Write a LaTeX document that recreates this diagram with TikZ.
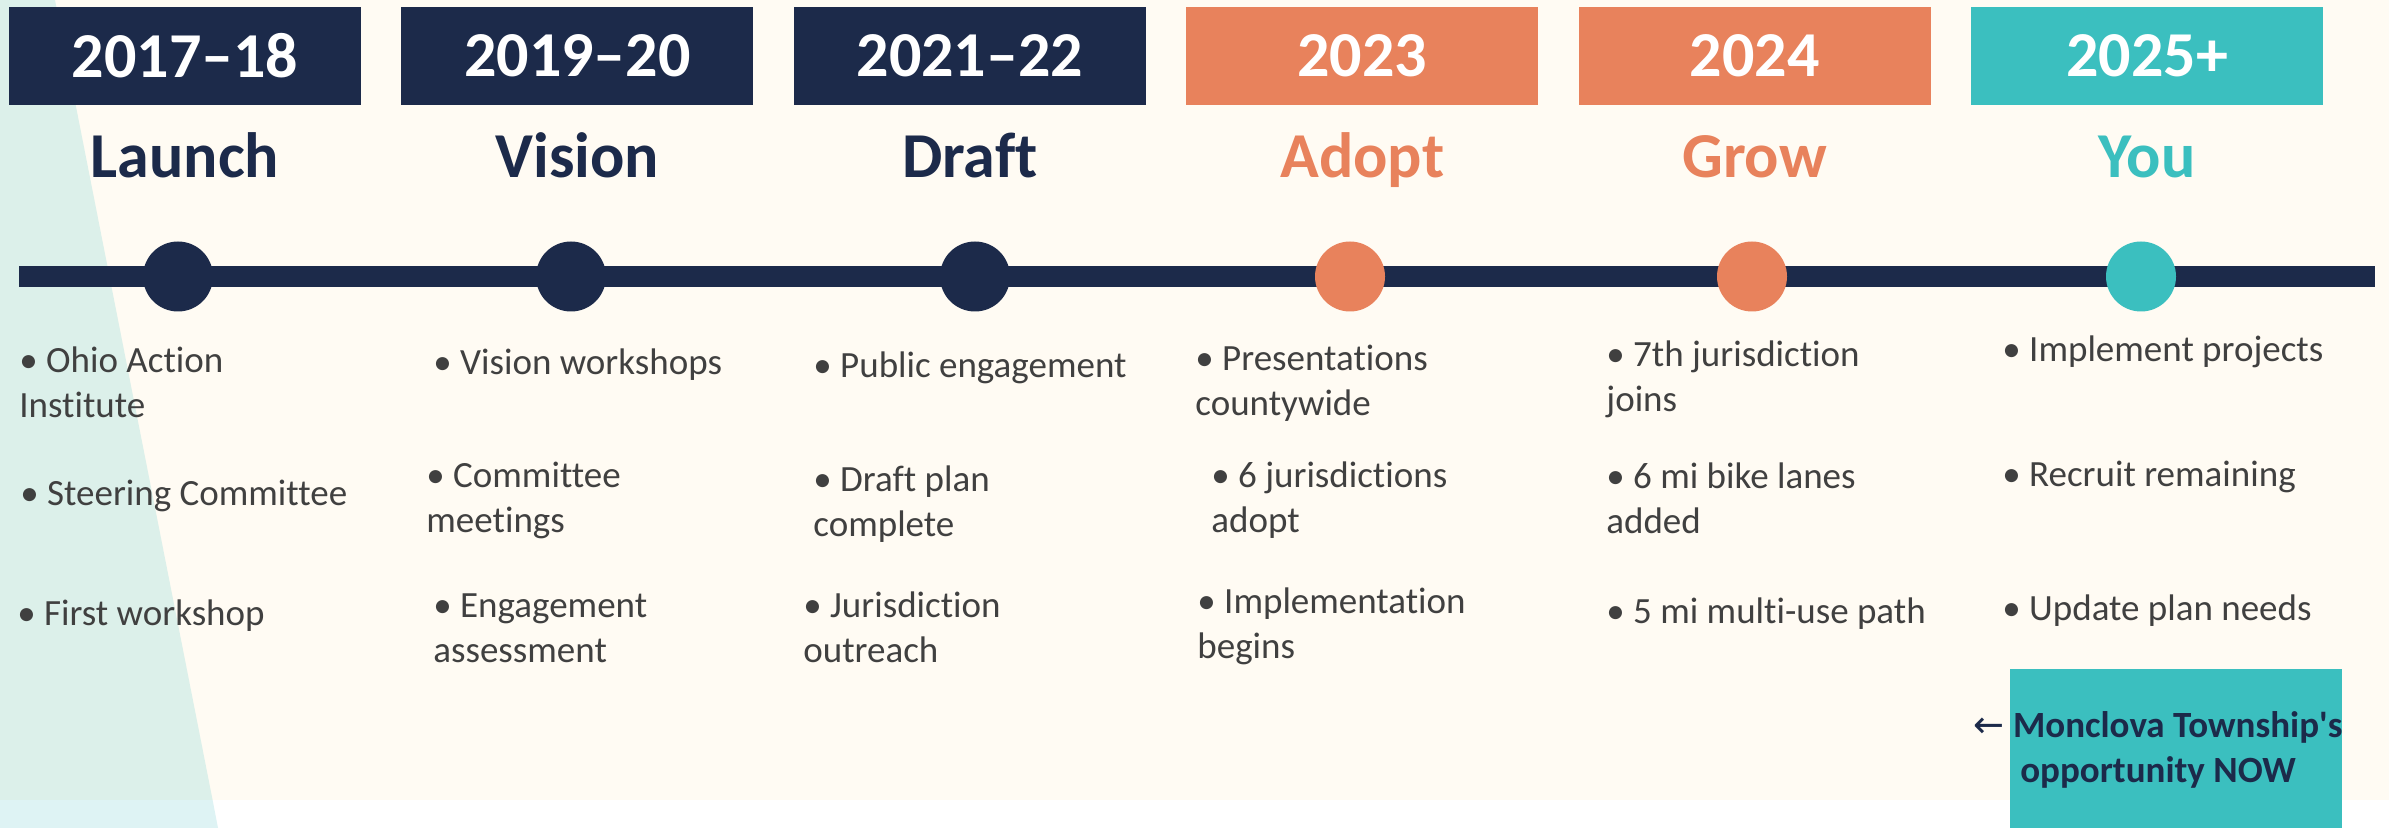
\documentclass[tikz,border=0pt]{standalone}
\usepackage{fontspec}
\setmainfont{Carlito}[Ligatures=NoCommon]
\newfontfamily\arrowfont{DejaVu Sans}
\usetikzlibrary{positioning}

\definecolor{navy}{HTML}{1C2A4A}
\definecolor{coral}{HTML}{E8825C}
\definecolor{aqua}{HTML}{3BBFBF}
\definecolor{cream}{HTML}{FFFBF3}
\definecolor{mint}{RGB}{220,240,234}
\definecolor{ice}{RGB}{222,243,244}
\definecolor{ink}{HTML}{404040}

\tikzset{
  yearbox/.style={fill=#1, text=white, font=\fontsize{32}{38}\selectfont\bfseries,
    minimum width=176pt, minimum height=49pt, inner sep=0pt},
  phase/.style={text=#1, font=\fontsize{32}{38}\selectfont\bfseries, anchor=base, inner sep=0pt},
  milestone/.style={circle, fill=#1, minimum size=35pt, inner sep=0pt},
  bullettext/.style={anchor=base west, align=left, text=ink,
    font=\fontsize{18.5}{22.5}\selectfont, inner sep=0pt},
  bar/.style={draw=navy, line width=10.5pt},
}

\begin{document}
\begin{tikzpicture}[x=0.5pt,y=-0.5pt]
   \useasboundingbox (0,0) rectangle (2389,828);
   %BACKGROUND
   \fill[white] (0,0) rectangle (2389,828);
   \fill[cream] (0,0) rectangle (2389,800);
   \fill[mint] (0,0) -- (55,0) -- (212.6,800) -- (0,800) -- cycle;
   \fill[ice] (0,800) -- (212.6,800) -- (218,828) -- (0,828) -- cycle;

   %YEARS
   \node[yearbox=navy] (y1) at (185,56) {2017–18};
   \node[yearbox=navy] (y2) at (577.4,56) {2019–20};
   \node[yearbox=navy] (y3) at (969.8,56) {2021–22};
   \node[yearbox=coral] (y4) at (1362.2,56) {2023};
   \node[yearbox=coral] (y5) at (1754.6,56) {2024};
   \node[yearbox=aqua] (y6) at (2147,56) {2025+};

   %PHASES
   \node[phase=navy] (p1) at (185,178) {Launch};
   \node[phase=navy] (p2) at (577.4,178) {Vision};
   \node[phase=navy] (p3) at (969.8,178) {Draft};
   \node[phase=coral] (p4) at (1362.2,178) {Adopt};
   \node[phase=coral] (p5) at (1754.6,178) {Grow};
   \node[phase=aqua] (p6) at (2147,178) {You};

   %TIMELINE
   \coordinate (lstart) at (19,276.5);
   \coordinate (lend) at (2375,276.5);
   \draw[bar] (lstart) -- (lend);
   \node[milestone=navy] (m1) at (178,276.5) {};
   \node[milestone=navy] (m2) at (571,276.5) {};
   \node[milestone=navy] (m3) at (975,276.5) {};
   \node[milestone=coral] (m4) at (1350,276.5) {};
   \node[milestone=coral] (m5) at (1752,276.5) {};
   \node[milestone=aqua] (m6) at (2141,276.5) {};

   %2017-18 (base = last line)
   \node[bullettext] (a1) at (19,418) {• Ohio Action\\Institute};
   \node[bullettext] (a2) at (20,506) {• Steering Committee};
   \node[bullettext] (a3) at (17,625) {• First workshop};

   %2019-20
   \node[bullettext] (b1) at (433,375) {• Vision workshops};
   \node[bullettext] (b2) at (426,532) {• Committee\\meetings};
   \node[bullettext] (b3) at (433,662) {• Engagement\\assessment};

   %2021-22
   \node[bullettext] (c1) at (813,378) {• Public engagement};
   \node[bullettext] (c2) at (813,537) {• Draft plan\\complete};
   \node[bullettext] (c3) at (803,662) {• Jurisdiction\\outreach};

   %2023
   \node[bullettext] (d1) at (1195,416) {• Presentations\\countywide};
   \node[bullettext] (d2) at (1211,532) {• 6 jurisdictions\\adopt};
   \node[bullettext] (d3) at (1197,658) {• Implementation\\begins};

   %2024
   \node[bullettext] (e1) at (1606,412) {• 7th jurisdiction\\joins};
   \node[bullettext] (e2) at (1606,533) {• 6 mi bike lanes\\added};
   \node[bullettext] (e3) at (1606,623) {• 5 mi multi-use path};

   %2025+
   \node[bullettext] (f1) at (2002,362) {• Implement projects};
   \node[bullettext] (f2) at (2002,487) {• Recruit remaining};
   \node[bullettext] (f3) at (2002,620) {• Update plan needs};

   %NOW
   \fill[aqua] (2010,669) rectangle (2342,828);
   \node[anchor=base, align=center, text=navy, inner sep=0pt,
     font=\fontsize{18.5}{22.5}\selectfont\bfseries] (now) at (2158,782)
     {{\arrowfont\mdseries ←} Monclova Township\textquotesingle s\\opportunity NOW};
\end{tikzpicture}
\end{document}
